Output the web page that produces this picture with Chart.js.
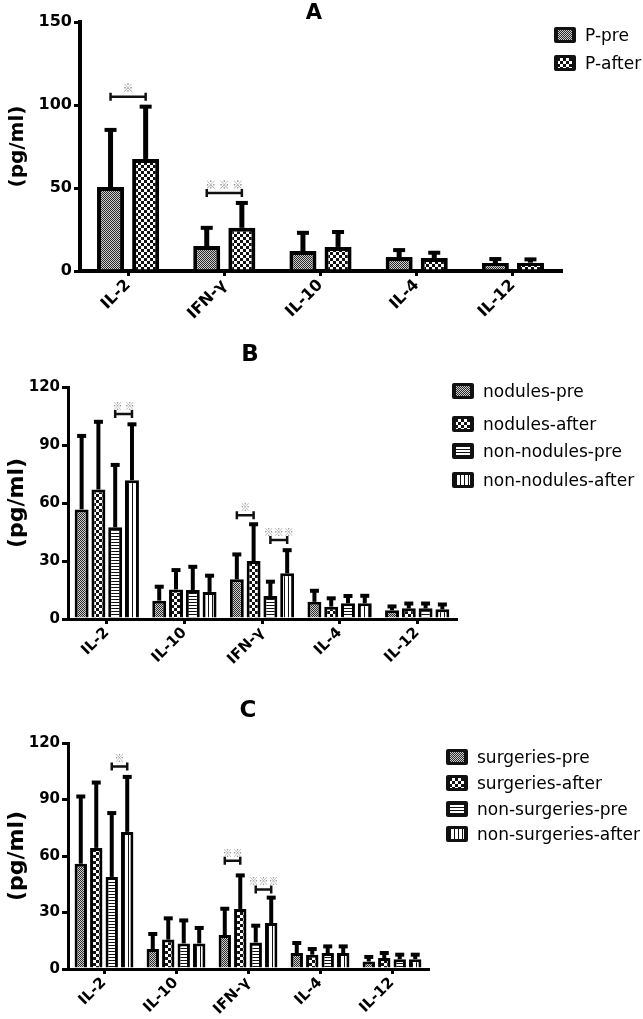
<!DOCTYPE html>
<html>
<head>
<meta charset="utf-8">
<script src="https://cdn.jsdelivr.net/npm/chart.js@4"></script>
<style>
body{margin:0;background:#fff;width:643px;height:1019px;position:relative;overflow:hidden;font-family:"DejaVu Sans",sans-serif;}
canvas.panel{position:absolute;left:0;}
.ttl{position:absolute;font-weight:bold;color:#000;transform:translate(-50%,-50%);line-height:1;}
.leg{position:absolute;display:flex;align-items:center;font-size:17px;color:#000;transform:translateY(-50%);white-space:nowrap;}
.leg canvas{margin-right:9px;border-radius:2px;}
</style>
</head>
<body>
<canvas id="chartA" class="panel" width="643" height="330" style="top:0"></canvas>
<canvas id="chartB" class="panel" width="643" height="360" style="top:320px"></canvas>
<canvas id="chartC" class="panel" width="643" height="359" style="top:660px"></canvas>
<div class="ttl" style="left:314px;top:12px;font-size:21px">A</div>
<div class="ttl" style="left:250px;top:353px;font-size:23px">B</div>
<div class="ttl" style="left:248px;top:709px;font-size:23px">C</div>

<script>
// ---- data ----
var catsA = ["IL-2", "IFN-γ", "IL-10", "IL-4", "IL-12"];
var namesA = ["P-pre", "P-after"];
var aPre = [50.6, 15, 12, 8.4, 4.8];
var aPreSd = [34.4, 11, 11, 4.2, 2.4];
var aAfter = [67.5, 26, 14.5, 7.8, 5];
var aAfterSd = [31.5, 15, 9, 3.2, 2];
var sigA = [
	{cat: 0, from: 0, to: 1, y: 105, text: "※"},
	{cat: 1, from: 0, to: 1, y: 47, text: "※ ※ ※"}
];

var catsBC = ["IL-2", "IL-10", "IFN-γ", "IL-4", "IL-12"];
var namesB = ["nodules-pre", "nodules-after", "non-nodules-pre", "non-nodules-after"];
var bNodPre = [56.7, 9.5, 20.5, 8.9, 4.5];
var bNodPreSd = [38, 7.2, 12.9, 5.7, 2];
var bNodAfter = [67, 15.3, 30, 6.4, 5.5];
var bNodAfterSd = [35, 10, 19, 4.3, 2.5];
var bNonPre = [47.4, 15, 11.9, 8.1, 5.5];
var bNonPreSd = [32.3, 12, 7.4, 3.8, 2.5];
var bNonAfter = [71.8, 14, 23.6, 8.1, 5];
var bNonAfterSd = [28.9, 8.4, 12, 3.9, 2.5];
var sigB = [
	{cat: 0, from: 2, to: 3, y: 106, text: "※ ※"},
	{cat: 2, from: 0, to: 1, y: 53.7, text: "※"},
	{cat: 2, from: 2, to: 3, y: 40.8, text: "※※※"}
];

var namesC = ["surgeries-pre", "surgeries-after", "non-surgeries-pre", "non-surgeries-after"];
var cSurPre = [55.9, 10.6, 18, 8.5, 4];
var cSurPreSd = [35.7, 8, 14, 5.3, 2.4];
var cSurAfter = [64.3, 15.6, 31.9, 7.6, 5.8];
var cSurAfterSd = [34.7, 11.3, 17.8, 3, 2.7];
var cNonPre = [48.9, 13.6, 14.1, 8.5, 5.2];
var cNonPreSd = [33.9, 12.2, 8.9, 3.5, 2.4];
var cNonAfter = [72.8, 13.6, 24.4, 8.5, 5.2];
var cNonAfterSd = [29.2, 8.2, 13.5, 3.5, 2.4];
var sigC = [
	{cat: 0, from: 2, to: 3, y: 107.5, text: "※"},
	{cat: 2, from: 0, to: 1, y: 57.5, text: "※※"},
	{cat: 2, from: 2, to: 3, y: 42.2, text: "※※※"}
];

var ticksA = [0, 50, 100, 150];
var ticksBC = [0, 30, 60, 90, 120];

// ---- fill patterns ----
function tile(w, h, fn) {
	var c = document.createElement("canvas");
	c.width = w; c.height = h;
	fn(c.getContext("2d"));
	return c;
}
var tiles = [
	tile(2, 2, function(g){ g.fillStyle = "#cfcfcf"; g.fillRect(0,0,2,2); g.fillStyle = "#2a2a2a"; g.fillRect(0,0,1,1); g.fillRect(1,1,1,1); }),
	tile(6, 6, function(g){ g.fillStyle = "#fff"; g.fillRect(0,0,6,6); g.fillStyle = "#111"; g.fillRect(0,0,3,3); g.fillRect(3,3,3,3); }),
	tile(1, 3, function(g){ g.fillStyle = "#fff"; g.fillRect(0,0,1,3); g.fillStyle = "#111"; g.fillRect(0,0,1,1); }),
	tile(4, 1, function(g){ g.fillStyle = "#fff"; g.fillRect(0,0,4,1); g.fillStyle = "#111"; g.fillRect(0,0,1,1); })
];
var pctx = document.createElement("canvas").getContext("2d");
var fills = tiles.map(function(t){ return pctx.createPattern(t, "repeat"); });

Chart.defaults.font.family = "'DejaVu Sans', sans-serif";
Chart.defaults.color = "#000";

// error bars + significance brackets
var extras = {
	id: "extras",
	afterDatasetsDraw: function(chart, args, o) {
		var ctx = chart.ctx, ys = chart.scales.y;
		ctx.save();
		ctx.strokeStyle = "#000";
		chart.data.datasets.forEach(function(ds, i) {
			chart.getDatasetMeta(i).data.forEach(function(bar, j) {
				var top = ys.getPixelForValue(ds.data[j] + ds.sd[j]);
				ctx.lineWidth = o.errWidth;
				ctx.beginPath();
				ctx.moveTo(bar.x, bar.y);
				ctx.lineTo(bar.x, top);
				ctx.stroke();
				ctx.lineWidth = o.capWidth;
				ctx.beginPath();
				ctx.moveTo(bar.x - o.cap, top);
				ctx.lineTo(bar.x + o.cap, top);
				ctx.stroke();
			});
		});
		o.sig.forEach(function(s) {
			var x1 = chart.getDatasetMeta(s.from).data[s.cat].x;
			var x2 = chart.getDatasetMeta(s.to).data[s.cat].x;
			var y = ys.getPixelForValue(s.y);
			ctx.lineWidth = 2.5;
			ctx.strokeStyle = "#111";
			ctx.beginPath();
			ctx.moveTo(x1, y); ctx.lineTo(x2, y);
			ctx.moveTo(x1, y - 4); ctx.lineTo(x1, y + 4);
			ctx.moveTo(x2, y - 4); ctx.lineTo(x2, y + 4);
			ctx.stroke();
			ctx.fillStyle = "#8c8c8c";
			ctx.font = o.starSize + "px 'Noto Sans CJK SC'";
			ctx.textAlign = "center";
			ctx.textBaseline = "bottom";
			ctx.fillText(s.text, (x1 + x2) / 2, y - 3);
		});
		ctx.restore();
	}
};

function makeChart(id, cats, values, sds, names, tickVals, o) {
	var datasets = values.map(function(v, i) {
		return {
			label: names[i], data: v, sd: sds[i],
			backgroundColor: fills[i], borderColor: "#000",
			borderWidth: o.border, borderSkipped: "start",
			barPercentage: o.barPct, categoryPercentage: o.catPct
		};
	});
	return new Chart(id, {
		type: "bar",
		data: {labels: cats, datasets: datasets},
		plugins: [extras],
		options: {
			responsive: false,
			animation: false,
			layout: {padding: o.padding},
			plugins: {
				legend: {display: false},
				tooltip: {enabled: false},
				extras: {errWidth: o.errWidth, capWidth: o.capWidth, cap: o.cap, sig: o.sig, starSize: o.starSize}
			},
			scales: {
				x: {
					grid: {display: true, drawOnChartArea: false, offset: false, tickLength: 5, color: "#000", lineWidth: 3},
					border: {color: "#000", width: o.axisWidth},
					ticks: {font: {size: o.tickSize, weight: "bold"}, minRotation: 45, maxRotation: 45, padding: 0},
					afterFit: function(s) { s.height = o.xHeight; }
				},
				y: {
					min: 0, max: tickVals[tickVals.length - 1],
					afterBuildTicks: function(s) { s.ticks = tickVals.map(function(v){ return {value: v}; }); },
					grid: {display: true, drawOnChartArea: false, tickLength: 6, color: "#000", lineWidth: 3},
					border: {color: "#000", width: o.axisWidth},
					ticks: {font: {size: o.tickSize, weight: "bold"}, padding: 2},
					title: {display: true, text: "(pg/ml)", font: {size: o.titleSize, weight: "bold"}, padding: 0},
					afterFit: function(s) { s.width = o.yWidth; }
				}
			}
		}
	});
}

makeChart("chartA", catsA, [aPre, aAfter], [aPreSd, aAfterSd], namesA, ticksA, {
	border: 4, barPct: 0.77, catPct: 0.73, errWidth: 5, capWidth: 4, cap: 6, sig: sigA, starSize: 11,
	padding: {left: 6, right: 82, top: 22, bottom: 0}, xHeight: 59, yWidth: 74,
	tickSize: 16, titleSize: 20, axisWidth: 4
});
makeChart("chartB", catsBC, [bNodPre, bNodAfter, bNonPre, bNonAfter],
	[bNodPreSd, bNodAfterSd, bNonPreSd, bNonAfterSd], namesB, ticksBC, {
	border: 3, barPct: 0.83, catPct: 0.865, errWidth: 4, capWidth: 4, cap: 4.5, sig: sigB, starSize: 10,
	padding: {left: 4, right: 187, top: 67, bottom: 0}, xHeight: 61, yWidth: 64,
	tickSize: 15, titleSize: 22, axisWidth: 3
});
makeChart("chartC", catsBC, [cSurPre, cSurAfter, cNonPre, cNonAfter],
	[cSurPreSd, cSurAfterSd, cNonPreSd, cNonAfterSd], namesC, ticksBC, {
	border: 3, barPct: 0.8, catPct: 0.86, errWidth: 4, capWidth: 4, cap: 4.5, sig: sigC, starSize: 10,
	padding: {left: 4, right: 215, top: 83, bottom: 0}, xHeight: 50, yWidth: 64,
	tickSize: 15, titleSize: 22, axisWidth: 3
});

// ---- legends (html) ----
function legend(names, left, rows) {
	names.forEach(function(n, i) {
		var d = document.createElement("div");
		d.className = "leg";
		d.style.left = left + "px";
		d.style.top = rows[i] + "px";
		var sw = document.createElement("canvas");
		sw.width = 22; sw.height = 16;
		var g = sw.getContext("2d");
		g.fillStyle = "#111"; g.fillRect(0, 0, 22, 16);
		g.fillStyle = fills[i]; g.fillRect(4, 3, 14, 10);
		d.appendChild(sw);
		d.appendChild(document.createTextNode(n));
		document.body.appendChild(d);
	});
}
legend(namesA, 554, [35, 63]);
legend(namesB, 452, [391, 424, 451, 480]);
legend(namesC, 446, [757, 783, 809, 834]);
</script>
</body>
</html>
